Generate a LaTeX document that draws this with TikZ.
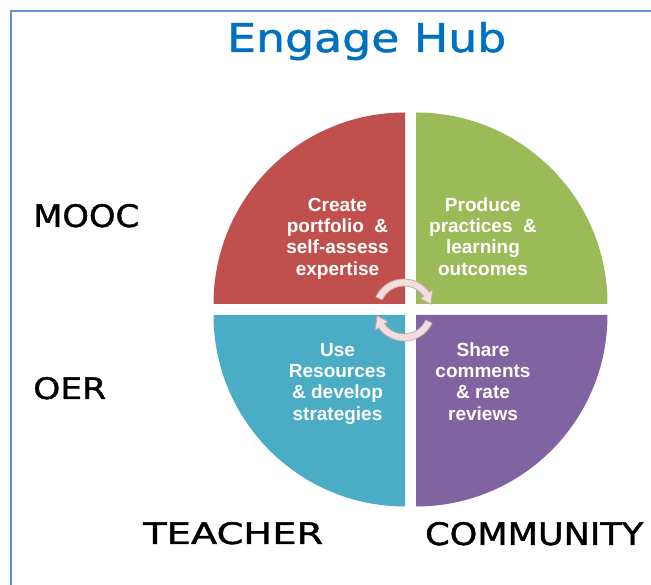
\documentclass[tikz,border=0pt]{standalone}
\usepackage{fontspec}
\setmainfont{Liberation Sans}
\newfontfamily\sqfont{DejaVu Sans}[FakeBold=1.2]
\usetikzlibrary{calc}

\definecolor{frameblue}{RGB}{100,145,210}
\definecolor{titleblue}{RGB}{0,112,192}
\definecolor{qred}{RGB}{192,80,77}
\definecolor{qgreen}{RGB}{155,187,89}
\definecolor{qblue}{RGB}{75,172,198}
\definecolor{qpurple}{RGB}{128,100,162}
\definecolor{cycfill}{RGB}{242,222,222}
\definecolor{cycline}{RGB}{205,170,170}

% label text squeezed into a given width and cap height
\newcommand{\sqlabel}[3]{\resizebox{#1}{#2}{\sqfont #3}}

\tikzset{
  quadtext/.style={text=white, align=center, inner sep=0pt, anchor=north,
    font=\bfseries\fontsize{19}{21.3}\selectfont},
  biglabel/.style={inner sep=0pt, anchor=base west},
  cycarrow/.style={fill=cycfill, draw=cycline, line width=0.8pt, line join=round}
}

\begin{document}
\begin{tikzpicture}[x=1pt, y=1pt]
  \useasboundingbox (0,0) rectangle (651,585);
  \clip (0,0) rectangle (651,585);

  % frame
  \draw[frameblue, line width=1.8pt] (11,-20) -- (11,574) -- (670,574);

  % title
  \node[biglabel, text=titleblue] (title) at (227,533) {\sqlabel{279pt}{30pt}{Engage Hub}};

  % four quadrants
  \fill[qred]    (405,281) -- (213.5,281) arc[start angle=180, end angle=90,  radius=191.5pt] -- cycle;
  \fill[qgreen]  (416,281) -- (416,472.5) arc[start angle=90,  end angle=0,   radius=191.5pt] -- cycle;
  \fill[qblue]   (405,270) -- (405,78.5)  arc[start angle=270, end angle=180, radius=191.5pt] -- cycle;
  \fill[qpurple] (416,270) -- (607.5,270) arc[start angle=0,   end angle=-90, radius=191.5pt] -- cycle;

  % quadrant texts
  \node[quadtext] (create)  at (337.5,388) {\rule{0pt}{14pt}Create\\portfolio~~\&\\self-assess\\expertise};
  \node[quadtext] (produce) at (483,388)   {\rule{0pt}{14pt}Produce\\practices~~\&\\learning\\outcomes};
  \node[quadtext] (use)     at (337.5,243) {\rule{0pt}{14pt}Use\\Resources\\\& develop\\strategies};
  \node[quadtext] (share)   at (483,243)   {\rule{0pt}{14pt}Share\\comments\\\& rate\\reviews};

  % cycle arrows around the centre
  \begin{scope}[shift={(404,275)}]
    \filldraw[cycarrow] (155:31pt) arc[start angle=155, end angle=35, radius=31pt]
      -- (35:35pt) -- (12:27.5pt) -- (35:20pt) -- (35:24pt)
      arc[start angle=35, end angle=155, radius=24pt] -- cycle;
    \filldraw[cycarrow] (-25:31pt) arc[start angle=-25, end angle=-145, radius=31pt]
      -- (-145:35pt) -- (-168:27.5pt) -- (-145:20pt) -- (-145:24pt)
      arc[start angle=-145, end angle=-25, radius=24pt] -- cycle;
  \end{scope}

  % side and bottom labels
  \node[biglabel] (mooc)      at (33,358)  {\sqlabel{106pt}{23pt}{MOOC}};
  \node[biglabel] (oer)       at (33,186)  {\sqlabel{73pt}{22pt}{OER}};
  \node[biglabel] (teacher)   at (143,41)  {\sqlabel{180pt}{22pt}{TEACHER}};
  \node[biglabel] (community) at (425,40)  {\sqlabel{218pt}{23pt}{COMMUNITY}};
\end{tikzpicture}
\end{document}
